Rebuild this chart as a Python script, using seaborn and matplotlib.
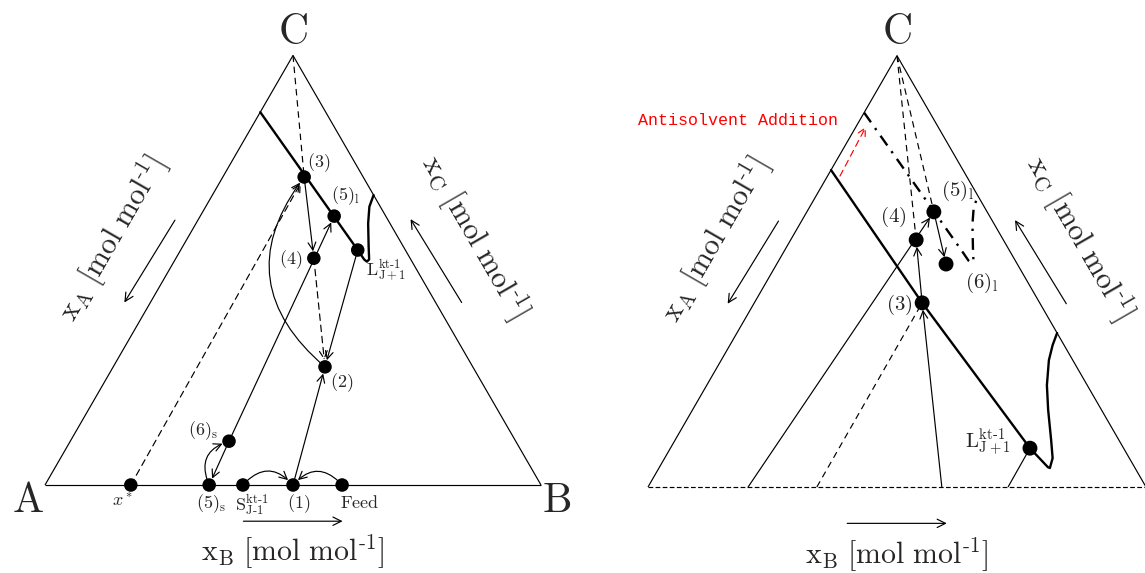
import numpy as np
import matplotlib
matplotlib.use("Agg")
import matplotlib.pyplot as plt
from matplotlib.patches import FancyArrowPatch
import seaborn as sns

# ---------------------------------------------------------------
# Compositions are given as (x_B, x_C); x_A = 1 - x_B - x_C
# ---------------------------------------------------------------

# Left diagram: states of the crystallisation cycle
left_names = ["x*", "(5)s", "S", "(1)", "Feed", "(6)s", "(2)", "(4)", "(3)", "(5)l", "L"]
left_xB = [0.173, 0.331, 0.399, 0.500, 0.599, 0.320, 0.427, 0.278, 0.164, 0.270, 0.357]
left_xC = [0.000, 0.000, 0.000, 0.000, 0.000, 0.102, 0.275, 0.528, 0.717, 0.626, 0.547]

# solubility curve without antisolvent
sol_xB = [0.000, 0.357, 0.381, 0.389, 0.391, 0.375, 0.347, 0.330, 0.325]
sol_xC = [0.868, 0.547, 0.525, 0.520, 0.525, 0.555, 0.609, 0.648, 0.675]

# Right diagram: states after antisolvent addition
right_names = ["(3)", "(4)", "(5)l", "(6)l", "L"]
right_xB = [0.337, 0.252, 0.255, 0.340, 0.722]
right_xC = [0.427, 0.573, 0.638, 0.517, 0.090]

# solubility curve with antisolvent
sol2_xB = [0.000, 0.337, 0.722, 0.780, 0.785, 0.779, 0.755, 0.714, 0.683, 0.658, 0.648, 0.643]
sol2_xC = [0.735, 0.427, 0.090, 0.046, 0.044, 0.067, 0.109, 0.179, 0.236, 0.294, 0.329, 0.357]

# feet of the right-hand construction lines on the A-B edge
right_base_xB = [0.201, 0.339, 0.590, 0.723]

# shift of the solubility curve by antisolvent addition
shift_xB = [0.025, 0.020]
shift_xC = [0.721, 0.835]

SQ3 = np.sqrt(3.0) / 2.0


def cart(xb, xc):
    xb = np.asarray(xb, float)
    xc = np.asarray(xc, float)
    return xb + 0.5 * xc, SQ3 * xc


def pt(xb, xc):
    x, y = cart(xb, xc)
    return float(x), float(y)


sns.set_theme(style="white")
plt.rcParams["mathtext.fontset"] = "cm"
plt.rcParams["font.family"] = ["DejaVu Serif"]

fig = plt.figure(figsize=(11.45, 5.73), dpi=100)
axL = fig.add_axes([0, 0, 572 / 1145, 1])
axL.set_xlim(-45 / 496, 527 / 496)
axL.set_ylim(-88 / 496, 485 / 496)
axR = fig.add_axes([572 / 1145, 0, 573 / 1145, 1])
axR.set_xlim(-76 / 498, 497 / 498)
axR.set_ylim(-86 / 498, 487 / 498)
for ax in (axL, axR):
    ax.set_axis_off()

A = (0.0, 0.0)
B = (1.0, 0.0)
C = (0.5, SQ3)
THIN = 0.85
THICK = 1.7
DASH = (0, (5.5, 4))

KT = r"\text{kt-1}"


def line(ax, p, q, **kw):
    kw.setdefault("color", "black")
    kw.setdefault("lw", THIN)
    ax.plot([p[0], q[0]], [p[1], q[1]], solid_capstyle="butt", zorder=3, **kw)


def arrow(ax, p, q, rad=0.0, ls="-", color="black", shrinkB=5, shrinkA=0):
    a = FancyArrowPatch(p, q, arrowstyle="->,head_length=0.55,head_width=0.28",
                        mutation_scale=10, connectionstyle=f"arc3,rad={rad}",
                        color=color, lw=THIN, linestyle=ls,
                        shrinkA=shrinkA, shrinkB=shrinkB, zorder=4)
    ax.add_patch(a)


def axis_labels(ax):
    lab = r"$\mathrm{x_%s\ [mol\ mol^{\text{-1}}]}$"
    ax.text(0.5, -0.135, lab % "B", fontsize=21.5, ha="center", va="center")
    ax.text(0.135, 0.497, lab % "A", fontsize=21.5, ha="center", va="center", rotation=60)
    ax.text(0.866, 0.5, lab % "C", fontsize=21.5, ha="center", va="center", rotation=-60)
    ax.text(0.5, 0.913, r"$\mathrm{C}$", fontsize=30, ha="center", va="center")
    kw = dict(arrowstyle="->,head_length=0.6,head_width=0.3", lw=THIN, color="black",
              mutation_scale=10, shrinkA=0, shrinkB=0)
    ax.add_patch(FancyArrowPatch((0.4, -0.073), (0.6, -0.073), **kw))
    ax.add_patch(FancyArrowPatch((0.262, 0.534), (0.160, 0.368), **kw))
    ax.add_patch(FancyArrowPatch((0.840, 0.368), (0.737, 0.536), **kw))


# ------------------------------ left diagram ------------------------------
ax = axL
line(ax, A, B)
line(ax, A, C)
line(ax, C, B)
ax.text(-0.034, -0.030, r"$\mathrm{A}$", fontsize=30, ha="center", va="center")
ax.text(1.032, -0.030, r"$\mathrm{B}$", fontsize=30, ha="center", va="center")
axis_labels(ax)

sx, sy = cart(sol_xB, sol_xC)
ax.plot(sx, sy, color="black", lw=THICK, solid_joinstyle="round", zorder=3)

P = {n: pt(b, c) for n, b, c in zip(left_names, left_xB, left_xC)}
line(ax, C, P["(3)"], ls=DASH)
arrow(ax, P["x*"], P["(3)"], ls=DASH)
arrow(ax, P["(3)"], P["(4)"])
arrow(ax, P["(6)s"], P["(5)s"])
arrow(ax, P["(6)s"], P["(5)l"])
arrow(ax, P["(4)"], P["(2)"], ls=DASH)
arrow(ax, P["L"], P["(2)"])
arrow(ax, P["(1)"], P["(2)"])
arrow(ax, P["(2)"], P["(3)"], rad=-0.47)
arrow(ax, P["(5)s"], P["(6)s"], rad=-0.55, shrinkA=4)
arrow(ax, P["S"], P["(1)"], rad=-0.55, shrinkA=4)
arrow(ax, P["Feed"], P["(1)"], rad=0.55, shrinkA=4)

lx, ly = cart(left_xB, left_xC)
sns.scatterplot(x=lx, y=ly, ax=ax, color="black", s=95, edgecolor="none", zorder=6, legend=False)

fs = 13
left_text = [
    (r"$\mathrm{(3)}$", (0.552, 0.650)),
    (r"$\mathrm{(5)_l}$", (0.605, 0.584)),
    (r"$\mathrm{(4)}$", (0.496, 0.454)),
    (r"$\mathrm{L^{%s}_{J+1}}$" % KT, (0.688, 0.433)),
    (r"$\mathrm{(2)}$", (0.598, 0.207)),
    (r"$\mathrm{(6)_s}$", (0.318, 0.109)),
    (r"$x^*$", (0.157, -0.034)),
    (r"$\mathrm{(5)_s}$", (0.335, -0.038)),
    (r"$\mathrm{S^{%s}_{J\text{-}1}}$" % KT, (0.418, -0.040)),
    (r"$\mathrm{(1)}$", (0.512, -0.038)),
    (r"$\mathrm{Feed}$", (0.634, -0.036)),
]
for s, xy in left_text:
    ax.text(xy[0], xy[1], s, fontsize=fs, ha="center", va="center", zorder=7)

# ------------------------------ right diagram ------------------------------
ax = axR
line(ax, A, B, ls=(0, (4, 2)))
line(ax, A, C)
line(ax, C, B)
axis_labels(ax)

# solubility curve without antisolvent (dash-dot) and with antisolvent (solid)
ax.plot(sx, sy, color="black", lw=THICK, ls=(0, (5, 3, 1, 3)), zorder=3)
s2x, s2y = cart(sol2_xB, sol2_xC)
ax.plot(s2x, s2y, color="black", lw=THICK, solid_joinstyle="round", zorder=3)

R = {n: pt(b, c) for n, b, c in zip(right_names, right_xB, right_xC)}
base = [pt(b, 0.0) for b in right_base_xB]

arrow(ax, base[0], R["(5)l"])
line(ax, base[1], R["(3)"], ls=DASH)
arrow(ax, base[2], R["(3)"])
line(ax, base[3], R["L"])
arrow(ax, R["(3)"], R["(4)"])
arrow(ax, R["(5)l"], R["(6)l"])
line(ax, C, R["(4)"], ls=DASH)
line(ax, C, R["(5)l"], ls=DASH)
arrow(ax, pt(shift_xB[0], shift_xC[0]), pt(shift_xB[1], shift_xC[1]),
      ls=DASH, color="red", shrinkB=0)

rx, ry = cart(right_xB, right_xC)
sns.scatterplot(x=rx, y=ry, ax=ax, color="black", s=115, edgecolor="none", zorder=6, legend=False)

fs = 15
right_text = [
    (r"$\mathrm{(3)}$", (0.504, 0.365)),
    (r"$\mathrm{(4)}$", (0.492, 0.542)),
    (r"$\mathrm{(5)_l}$", (0.622, 0.594)),
    (r"$\mathrm{(6)_l}$", (0.669, 0.410)),
    (r"$\mathrm{L^{%s}_{J+1}}$" % KT, (0.683, 0.088)),
]
for s, xy in right_text:
    ax.text(xy[0], xy[1], s, fontsize=fs, ha="center", va="center", zorder=7)

ax.text(0.181, 0.735, "Antisolvent Addition", color="red", fontsize=12,
        family=["Liberation Mono", "DejaVu Sans Mono"], ha="center", va="center")

fig.savefig("out.png", dpi=100)
